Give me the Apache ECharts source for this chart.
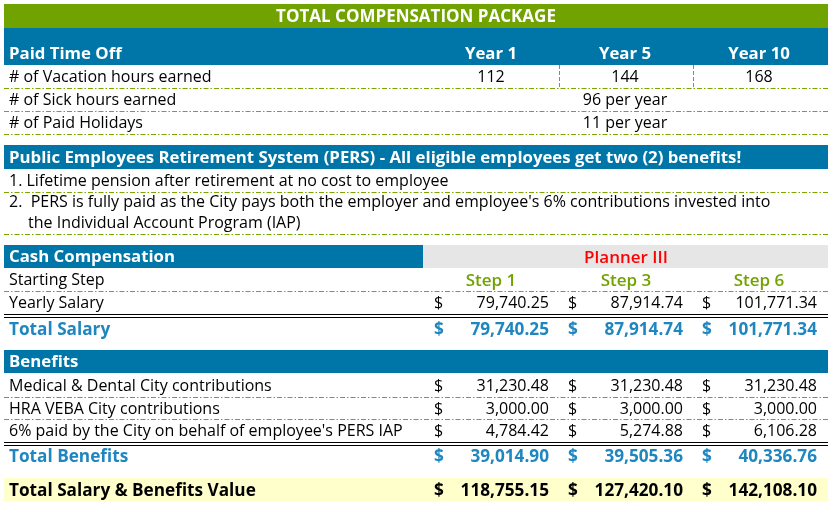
<!DOCTYPE html>
<html>
<head>
<meta charset="utf-8">
<script src="https://cdn.jsdelivr.net/npm/echarts@6/dist/echarts.min.js"></script>
<style>
html,body{margin:0;padding:0;background:#fff}
#main{width:832px;height:506px}
</style>
</head>
<body>
<div id="main"></div>
<script>
var tableTitle = 'TOTAL COMPENSATION PACKAGE';
var ptoHeader = 'Paid Time Off';
var ptoYears = ['Year 1', 'Year 5', 'Year 10'];
var ptoLabels = ['# of Vacation hours earned', '# of Sick hours earned', '# of Paid Holidays'];
var vacationHours = [112, 144, 168];
var sickHoursPerYear = 96;
var paidHolidaysPerYear = 11;
var persHeader = 'Public Employees Retirement System (PERS) - All eligible employees get two (2) benefits!';
var persBenefits = [
	'1. Lifetime pension after retirement at no cost to employee',
	"2.  PERS is fully paid as the City pays both the employer and employee's 6% contributions invested into",
	'the Individual Account Program (IAP)'
];
var cashHeader = 'Cash Compensation';
var jobTitle = 'Planner III';
var steps = ['Step 1', 'Step 3', 'Step 6'];
var salaryLabels = ['Starting Step', 'Yearly Salary', 'Total Salary'];
var yearlySalary = [79740.25, 87914.74, 101771.34];
var totalSalary = [79740.25, 87914.74, 101771.34];
var benefitsHeader = 'Benefits';
var benefitLabels = [
	'Medical & Dental City contributions',
	'HRA VEBA City contributions',
	"6% paid by the City on behalf of employee's PERS IAP"
];
var medicalDental = [31230.48, 31230.48, 31230.48];
var hraVeba = [3000.00, 3000.00, 3000.00];
var persIap = [4784.42, 5274.88, 6106.28];
var totalBenefitsLabel = 'Total Benefits';
var totalBenefits = [39014.90, 39505.36, 40336.76];
var totalValueLabel = 'Total Salary & Benefits Value';
var totalValue = [118755.15, 127420.10, 142108.10];

// layout (axis units = pixels of the 832x506 picture)
var L = 4, R = 828;
var colCenter = [491, 625, 759];
var colSplit = [559, 693];
var dollarX = [434, 568, 702];
var amountRight = [549, 683, 817];
var GREEN = '#71a300', BLUE = '#0076a8', TOTALBLUE = '#1f86bf', DASH = '#79a800';
var FONT = '"Open Sans", "DejaVu Sans", sans-serif';
var HEAD = 16.8, BODY = 16, TOT = 17.2;
var DY = 1.2;   // nudge so cap height sits centred in the row

function money(v){
	var parts = v.toFixed(2).split('.');
	return parts[0].replace(/\B(?=(\d{3})+(?!\d))/g, ',') + '.' + parts[1];
}

var cells = [];
function rect(x0,y0,x1,y1,color){ cells.push({kind:'rect', value:[x0,y0,x1,y1], color:color}); }
function hline(y,color,dash){ cells.push({kind:'line', value:[L,y,R,y], color:color, dash:dash}); }
function vline(x,y0,y1,color,dash){ cells.push({kind:'line', value:[x,y0,x,y1], color:color, dash:dash}); }
function text(x,y,str,color,opt){
	opt = opt || {};
	cells.push({kind:'text', value:[x,y+DY,x,y+DY], text:String(str), color:color,
		align:opt.align || 'left', weight:opt.weight || 'normal', size:opt.size || BODY});
}
var dd = [5,2,1.5,2];

// title
rect(L,4,R,28,GREEN);
text(416,16,tableTitle,'#fff',{align:'center',weight:'bold',size:17});

// paid time off
rect(L,28,R,65,BLUE);
text(9,53,ptoHeader,'#fff',{weight:'bold',size:HEAD});
ptoYears.forEach(function(y,i){ text(colCenter[i],53,y,'#fff',{align:'center',weight:'bold',size:HEAD}); });
var ptoRows = [[65,88],[88,111],[111,134]];
ptoLabels.forEach(function(lab,i){
	var mid = (ptoRows[i][0]+ptoRows[i][1])/2;
	text(9,mid,lab,'#000');
	hline(ptoRows[i][1],DASH,dd);
});
vacationHours.forEach(function(v,i){ text(colCenter[i],76.5,v,'#000',{align:'center'}); });
colSplit.forEach(function(x){ vline(x,65,88,DASH,[4,2]); });
text(colCenter[1],99.5,sickHoursPerYear+' per year','#000',{align:'center'});
text(colCenter[1],122.5,paidHolidaysPerYear+' per year','#000',{align:'center'});

// PERS
rect(L,145,R,169,BLUE);
text(9,157,persHeader,'#fff',{weight:'bold',size:HEAD});
text(9,180,persBenefits[0],'#000');
hline(192,DASH,dd);
text(9,201.5,persBenefits[1],'#000');
text(28,222.5,persBenefits[2],'#000');
hline(234,DASH,dd);

// cash compensation
rect(L,245,423,268,BLUE);
rect(423,245,R,268,'#e6e6e6');
text(9,256.5,cashHeader,'#fff',{weight:'bold',size:HEAD});
text(colCenter[1]+1,256.5,jobTitle,'#ff0000',{align:'center',weight:600,size:17});
text(9,279.5,salaryLabels[0],'#000');
steps.forEach(function(s,i){ text(colCenter[i]+(i===1?1:0),279.5,s,GREEN,{align:'center',weight:600,size:17}); });
hline(291,DASH,dd);
text(9,302.5,salaryLabels[1],'#000');
yearlySalary.forEach(function(v,i){
	text(dollarX[i],302.5,'$','#000');
	text(amountRight[i],302.5,money(v),'#000',{align:'right'});
});
hline(314,'#000');
hline(317,'#000');
text(9,328.5,salaryLabels[2],TOTALBLUE,{weight:'bold',size:TOT});
totalSalary.forEach(function(v,i){
	text(dollarX[i],328.5,'$',TOTALBLUE,{weight:'bold',size:TOT});
	text(amountRight[i],328.5,money(v),TOTALBLUE,{align:'right',weight:'bold',size:TOT});
});

// benefits
rect(L,350,R,373,BLUE);
text(9,361.5,benefitsHeader,'#fff',{weight:'bold',size:HEAD});
var benefitRows = [[373,397],[397,419],[419,442]];
var benefitValues = [medicalDental, hraVeba, persIap];
benefitLabels.forEach(function(lab,r){
	var mid = (benefitRows[r][0]+benefitRows[r][1])/2;
	text(9,mid,lab,'#000');
	benefitValues[r].forEach(function(v,i){
		text(dollarX[i],mid,'$','#000');
		text(amountRight[i],mid,money(v),'#000',{align:'right'});
	});
	if(r<2){ hline(benefitRows[r][1],DASH,dd); }
});
hline(442,'#000');
hline(445,'#000');
text(9,456,totalBenefitsLabel,TOTALBLUE,{weight:'bold',size:TOT});
totalBenefits.forEach(function(v,i){
	text(dollarX[i],456,'$',TOTALBLUE,{weight:'bold',size:TOT});
	text(amountRight[i],456,money(v),TOTALBLUE,{align:'right',weight:'bold',size:TOT});
});

// grand total
rect(L,478,R,501,'#ffffcc');
text(9,489.5,totalValueLabel,'#000',{weight:'bold',size:TOT});
totalValue.forEach(function(v,i){
	text(dollarX[i],489.5,'$','#000',{weight:'bold',size:TOT});
	text(amountRight[i],489.5,money(v),'#000',{align:'right',weight:'bold',size:TOT});
});

function renderItem(params, api){
	var c = cells[params.dataIndex];
	var p0 = api.coord([c.value[0], c.value[1]]);
	var p1 = api.coord([c.value[2], c.value[3]]);
	if(c.kind === 'rect'){
		return {type:'rect', shape:{x:p0[0], y:p0[1], width:p1[0]-p0[0], height:p1[1]-p0[1]}, style:{fill:c.color}};
	}
	if(c.kind === 'line'){
		var h = p0[1] === p1[1];
		return {type:'line',
			shape:{x1:p0[0]+(h?0:0.5), y1:p0[1]+(h?0.5:0), x2:p1[0]+(h?0:0.5), y2:p1[1]+(h?0.5:0)},
			style:{stroke:c.color, lineWidth:1, lineDash:c.dash || null}};
	}
	return {type:'text', x:p0[0], y:p0[1],
		style:{text:c.text, fill:c.color, align:c.align, verticalAlign:'middle',
			font:c.weight+' '+c.size+'px '+FONT}};
}

var dom = document.getElementById('main');
var myChart = echarts.init(dom);
var option = {
	animation:false,
	grid:{left:0, right:0, top:0, bottom:0},
	xAxis:{type:'value', min:0, max:832, show:false},
	yAxis:{type:'value', min:0, max:506, inverse:true, show:false},
	series:[{
		type:'custom',
		renderItem:renderItem,
		clip:false,
		silent:true,
		data:cells.map(function(c){ return c.value; })
	}]
};
myChart.setOption(option);
</script>
</body>
</html>
